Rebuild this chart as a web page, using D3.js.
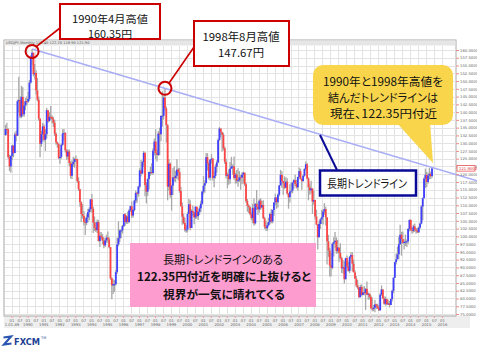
<!DOCTYPE html>
<html>
<head>
<meta charset="utf-8">
<script src="https://cdn.jsdelivr.net/npm/d3@7"></script>
<style>
body { margin: 0; background: #fff; }
svg { display: block; }
.jp { font-family: "Noto Sans CJK JP", sans-serif; font-feature-settings: "palt"; }
</style>
</head>
<body>
<svg id="chart"></svg>
<script>
// USDJPY monthly bars, Aug 1988 .. May 2015
const first_month = [1988, 8];
const first_open = 132.6;

const closes = [
    134.6, 134.5, 125.5, 122.5, 125.9,
    129.2, 126.8, 132.8, 132.4, 143.5, 143.9, 138.6, 144.9, 139.3, 142.1, 143.5, 143.4,
    144.2, 149.5, 157.6, 159.1, 152.2, 152.6, 147.0, 144.0, 137.9, 129.8, 132.9, 135.4,
    131.1, 132.9, 140.6, 137.1, 138.5, 138.4, 137.8, 136.6, 133.0, 130.3, 129.7, 125.2,
    125.6, 129.5, 133.1, 133.3, 127.7, 125.7, 127.3, 123.6, 119.5, 123.3, 124.0, 124.9,
    124.8, 117.8, 115.2, 111.0, 107.2, 106.6, 104.6, 104.4, 106.1, 107.8, 108.7, 111.9,
    108.9, 104.4, 102.8, 102.0, 104.6, 98.5, 100.2, 99.8, 98.6, 97.1, 98.7, 99.6,
    99.0, 96.5, 86.5, 84.2, 84.6, 84.6, 88.5, 97.4, 99.4, 101.9, 101.9, 103.3,
    107.1, 104.6, 106.4, 104.6, 108.3, 109.7, 106.7, 108.5, 111.5, 114.0, 113.8, 116.0,
    121.2, 120.2, 123.9, 126.9, 116.5, 114.4, 118.5, 120.7, 120.7, 120.4, 127.6, 130.5,
    126.8, 126.2, 133.1, 132.9, 138.8, 138.8, 144.7, 141.2, 135.8, 116.0, 123.4, 113.3,
    116.3, 119.0, 118.8, 119.5, 121.5, 120.7, 114.6, 109.7, 106.3, 104.3, 102.1, 102.2,
    107.2, 110.3, 102.7, 108.2, 107.7, 106.1, 109.5, 106.5, 107.9, 109.0, 110.5, 114.4,
    116.3, 117.1, 125.5, 123.5, 118.9, 124.7, 125.0, 118.8, 119.4, 122.4, 123.8, 131.0,
    134.7, 133.5, 132.7, 128.4, 124.0, 119.5, 119.9, 118.4, 121.8, 122.5, 122.5, 118.8,
    119.9, 117.9, 118.1, 119.0, 118.9, 119.8, 120.5, 116.8, 111.4, 109.9, 109.4, 107.2,
    105.9, 109.1, 104.2, 110.4, 109.5, 108.7, 111.5, 109.3, 110.1, 105.8, 103.1, 102.6,
    103.6, 104.6, 107.2, 104.8, 108.5, 110.9, 112.5, 111.0, 113.4, 116.4, 119.8, 117.8,
    117.1, 115.7, 117.6, 113.8, 112.6, 114.4, 114.7, 117.3, 118.1, 116.9, 115.8, 119.1,
    121.0, 118.6, 117.8, 119.5, 121.7, 123.2, 118.6, 115.8, 114.8, 115.4, 111.2, 111.7,
    106.4, 103.8, 99.7, 104.0, 105.5, 106.2, 108.0, 108.8, 106.1, 98.4, 95.5, 90.6,
    89.9, 97.6, 98.1, 98.6, 95.3, 96.4, 94.7, 93.0, 89.7, 90.1, 86.2, 93.0,
    90.3, 88.9, 93.4, 94.0, 91.2, 88.4, 86.4, 84.2, 83.5, 80.4, 83.7, 81.1,
    82.0, 81.8, 83.1, 81.2, 81.5, 80.5, 76.8, 76.6, 77.0, 78.1, 77.6, 76.9,
    76.2, 81.2, 82.9, 80.0, 78.3, 79.8, 78.1, 78.4, 77.9, 79.8, 82.5, 86.7,
    91.7, 92.6, 94.2, 97.5, 100.5, 99.1, 97.9, 98.2, 98.3, 98.4, 102.4, 105.3,
    102.0, 101.8, 103.2, 102.2, 101.8, 101.3, 102.8, 104.1, 109.6, 112.3, 118.6, 119.8,
    117.5, 119.6, 120.1, 119.4, 121.9
];

const highs = [
    135.9, 136.6, 134.8, 126.3, 126.0,
    129.5, 129.4, 133.5, 134.0, 144.0, 151.4, 145.0, 148.5, 148.0, 143.5, 144.5, 145.0,
    146.5, 150.3, 158.3, 160.35, 159.2, 155.5, 153.5, 151.0, 145.0, 138.0, 134.0, 136.5,
    136.1, 134.5, 141.4, 140.5, 140.0, 142.0, 139.0, 138.5, 137.5, 133.5, 130.5, 130.0,
    127.9, 129.9, 134.5, 134.6, 133.5, 128.0, 128.0, 128.0, 124.2, 124.5, 125.6, 125.3,
    126.0, 125.1, 119.0, 115.0, 111.2, 110.4, 108.2, 106.0, 107.1, 108.9, 109.4, 112.0,
    113.6, 109.5, 106.4, 104.6, 105.4, 105.3, 101.4, 101.4, 100.8, 99.7, 99.3, 100.5,
    101.6, 99.7, 96.6, 86.8, 86.2, 85.9, 89.2, 99.6, 104.8, 102.3, 102.3, 103.7,
    107.2, 107.5, 106.8, 108.0, 108.8, 109.9, 111.2, 108.9, 111.8, 114.8, 114.3, 116.3,
    121.9, 124.6, 124.3, 127.5, 127.0, 117.5, 118.6, 120.9, 122.4, 123.5, 128.3, 131.5,
    134.5, 128.0, 133.9, 135.0, 138.9, 146.7, 145.1, 147.67, 141.8, 136.1, 124.9, 123.8,
    116.6, 122.0, 122.5, 121.1, 124.8, 122.1, 122.0, 116.0, 111.0, 107.3, 106.0, 103.6,
    107.8, 112.1, 111.6, 108.7, 109.9, 107.7, 109.8, 109.5, 108.3, 109.8, 111.5, 114.7,
    119.4, 118.0, 126.8, 126.8, 124.0, 124.9, 126.5, 125.3, 121.0, 123.2, 124.5, 131.5,
    135.2, 134.7, 133.7, 133.4, 128.9, 125.0, 120.5, 121.5, 123.9, 125.6, 123.2, 125.7,
    120.5, 121.4, 121.9, 121.0, 119.8, 120.6, 120.8, 120.4, 117.3, 112.0, 110.3, 109.7,
    107.9, 110.5, 112.2, 110.7, 114.9, 111.0, 112.0, 112.3, 111.5, 111.6, 106.3, 105.0,
    104.5, 106.0, 107.7, 108.8, 108.6, 111.0, 113.7, 112.5, 113.8, 116.5, 121.4, 121.0,
    117.8, 119.3, 119.0, 118.7, 113.9, 116.8, 117.3, 117.6, 118.4, 119.8, 118.2, 119.2,
    122.2, 121.8, 118.6, 119.9, 121.9, 124.1, 123.6, 119.0, 117.0, 117.9, 115.5, 114.7,
    111.8, 108.6, 104.0, 105.0, 105.8, 108.6, 108.6, 110.7, 109.5, 106.2, 100.5, 96.3,
    94.6, 98.0, 99.7, 101.4, 99.7, 98.9, 96.4, 97.8, 93.4, 92.3, 92.0, 93.1,
    93.8, 91.9, 93.7, 94.9, 94.9, 92.5, 89.1, 87.2, 85.9, 83.7, 84.4, 84.5,
    83.7, 84.0, 83.3, 85.5, 82.0, 81.6, 81.0, 80.3, 77.9, 79.5, 78.3, 78.3,
    77.9, 81.7, 84.2, 82.6, 80.6, 80.6, 80.0, 79.6, 79.2, 80.0, 82.8, 86.8,
    91.8, 94.5, 96.7, 99.9, 103.7, 101.5, 101.5, 99.1, 100.6, 99.0, 102.6, 105.4,
    105.4, 102.8, 103.8, 104.1, 102.7, 102.8, 103.2, 104.5, 110.1, 112.5, 119.0, 121.8,
    120.8, 120.5, 122.0, 120.8, 122.2
];

const lows = [
    132.4, 132.9, 125.0, 121.0, 120.5,
    124.5, 125.5, 126.8, 130.5, 132.3, 139.8, 138.0, 138.1, 138.6, 138.5, 140.6, 142.2,
    142.9, 143.5, 149.2, 155.2, 151.5, 150.5, 145.7, 143.5, 137.2, 125.5, 128.8, 130.5,
    130.5, 127.5, 131.5, 136.5, 136.9, 137.5, 136.3, 135.2, 132.3, 129.5, 128.5, 124.9,
    123.4, 125.0, 129.2, 130.9, 127.0, 124.7, 124.6, 122.6, 118.6, 118.5, 122.3, 122.1,
    123.9, 117.2, 114.6, 109.5, 104.6, 105.7, 103.5, 100.4, 103.6, 104.5, 105.2, 107.8,
    107.6, 101.1, 101.7, 101.4, 101.1, 98.3, 96.6, 99.0, 97.5, 96.2, 96.6, 97.9,
    98.0, 96.2, 86.0, 79.75, 81.4, 82.1, 84.2, 87.9, 96.8, 98.2, 99.4, 100.9,
    103.0, 103.4, 104.0, 104.0, 104.3, 107.9, 105.9, 106.0, 108.0, 110.6, 110.8, 112.8,
    115.5, 119.3, 120.5, 122.3, 112.9, 110.6, 113.1, 115.1, 119.5, 119.9, 119.8, 126.0,
    124.8, 124.1, 125.9, 126.1, 130.6, 135.3, 137.6, 140.5, 130.2, 111.6, 114.8, 112.4,
    108.3, 113.3, 117.6, 117.5, 118.5, 118.1, 114.0, 109.5, 103.7, 103.9, 101.5, 101.2,
    101.3, 107.2, 102.0, 103.0, 106.5, 103.9, 105.6, 105.6, 105.3, 106.9, 107.8, 110.2,
    113.5, 114.0, 117.3, 121.2, 118.3, 118.0, 123.5, 118.0, 115.8, 118.6, 120.5, 123.5,
    130.8, 131.9, 127.3, 127.7, 123.3, 118.6, 115.5, 116.6, 116.9, 121.7, 119.8, 118.2,
    117.0, 117.0, 116.0, 117.5, 115.0, 116.8, 117.1, 116.2, 110.8, 107.9, 107.5, 106.8,
    105.2, 104.2, 103.4, 103.8, 108.5, 106.9, 107.6, 108.6, 109.0, 105.6, 102.4, 101.8,
    101.7, 103.2, 103.9, 104.2, 104.2, 106.6, 109.9, 108.9, 109.3, 112.9, 116.5, 115.6,
    113.4, 115.2, 115.5, 113.5, 108.9, 110.9, 113.8, 113.9, 115.3, 116.2, 115.4, 114.7,
    118.4, 118.3, 115.0, 117.6, 119.2, 121.2, 118.3, 111.6, 113.4, 113.8, 107.2, 110.2,
    105.5, 103.6, 95.8, 99.8, 102.4, 104.0, 103.8, 107.0, 103.5, 90.9, 93.4, 87.1,
    87.1, 89.4, 93.5, 96.3, 94.4, 94.5, 91.7, 92.6, 88.2, 88.0, 84.8, 86.2,
    89.8, 88.6, 88.1, 92.6, 88.7, 88.4, 86.3, 83.6, 82.9, 80.2, 80.5, 80.9,
    81.1, 81.0, 76.3, 81.2, 79.6, 79.7, 76.8, 75.9, 75.9, 75.56, 76.6, 76.6,
    76.0, 76.1, 80.9, 79.8, 78.0, 77.7, 77.9, 78.0, 77.1, 77.9, 79.0, 81.7,
    86.5, 90.9, 92.6, 92.6, 97.2, 93.8, 97.5, 95.8, 96.9, 96.6, 97.6, 101.6,
    101.8, 100.8, 101.2, 101.4, 100.8, 101.1, 101.1, 102.4, 103.9, 105.2, 112.3, 115.6,
    115.9, 116.9, 118.3, 118.5, 118.9
];

const price_ticks = d3.range(75, 160.01, 2.5);
const year_ticks = d3.range(1989, 2017);
const year_labels = ['1.01.89'].concat(d3.range(1990, 2017).map(String));
const half_labels = ['01', '07'];

// the two highs joined by the trend line
const peak_1990 = {year: 1990, month: 4, value: 160.35};
const peak_1998 = {year: 1998, month: 8, value: 147.67};

const note_1990 = ['1990年4月高値', '160.35円'];
const note_1998 = ['1998年8月高値', '147.67円'];
const note_trend = ['1990年と1998年高値を', '結んだトレンドラインは', '現在、122.35円付近'];
const note_label = '長期トレンドライン';
const note_pink = ['長期トレンドラインのある', '122.35円付近を明確に上抜けると', '視界が一気に晴れてくる'];
const header_text = 'USDJPY,Monthly  119.40 122.20 118.90 121.90';

class BarChart {

    constructor( config ) {
        this.config = {
            parent: config.parent,
            width: config.width || 477,
            height: config.height || 351,
            plot: config.plot || {left: 4, right: 456, top: 40, bottom: 316}
        }
        this.init();
    }

    init() {
        let self = this;

        self.svg = d3.select( self.config.parent )
            .attr('width', self.config.width)
            .attr('height', self.config.height);

        self.xscale = d3.scaleLinear()
            .domain( [1989, 2016] )
            .range( [11.5, 442] );

        self.yscale = d3.scaleLinear()
            .domain( [75, 160] )
            .range( [314, 50] );
    }

    update() {
        let self = this;

        self.bars = closes.map( (c, i) => {
            const m = first_month[1] - 1 + i;
            const o = i == 0 ? first_open : closes[i - 1];
            return {
                t: first_month[0] + (m + 0.5) / 12,
                o: o, c: c,
                h: Math.max(highs[i], o, c),
                l: Math.min(lows[i], o, c)
            };
        });

        self.render();
    }

    month_x( year, month ) {
        return this.xscale( year + (month - 0.5) / 12 );
    }

    text( g, x, y, str, size, len, weight ) {
        const t = g.append('text')
            .attr('class', 'jp')
            .attr('x', x)
            .attr('y', y)
            .attr('text-anchor', 'middle')
            .attr('dominant-baseline', 'central')
            .style('font-size', size + 'px')
            .style('font-weight', weight || 'normal')
            .attr('fill', '#111')
            .text( str );
        if (len) t.attr('textLength', len).attr('lengthAdjust', 'spacingAndGlyphs');
        return t;
    }

    render() {
        let self = this;
        const p = self.config.plot;
        const x = self.xscale, y = self.yscale;

        // frame
        self.svg.append('rect')
            .attr('x', p.left).attr('y', p.bottom)
            .attr('width', 466).attr('height', 12)
            .attr('fill', '#eeeeee');
        self.svg.append('rect')
            .attr('x', p.left).attr('y', p.top)
            .attr('width', p.right - p.left).attr('height', p.bottom - p.top)
            .attr('fill', '#fff').attr('stroke', '#a8a8a8');
        self.svg.append('rect')
            .attr('x', p.left + 0.5).attr('y', p.top + 0.5)
            .attr('width', p.right - p.left - 1).attr('height', 5)
            .attr('fill', '#e6e6e6');
        self.svg.append('text')
            .attr('x', p.left + 2).attr('y', p.top + 4)
            .style('font-family', 'DejaVu Sans').style('font-size', '3.6px')
            .attr('fill', '#555')
            .text( header_text );

        // grid
        const grid = self.svg.append('g').attr('stroke', '#e3e3e3').attr('stroke-width', 1);
        grid.selectAll('.vg').data( d3.range(1989, 2016.01, 0.5) ).join('line')
            .attr('x1', d => Math.round(x(d)) + 0.5).attr('x2', d => Math.round(x(d)) + 0.5)
            .attr('y1', p.top + 6).attr('y2', p.bottom);
        grid.selectAll('.hg').data( price_ticks ).join('line')
            .attr('x1', p.left + 1).attr('x2', p.right)
            .attr('y1', d => Math.round(y(d)) + 0.5).attr('y2', d => Math.round(y(d)) + 0.5);

        // bars
        const bar_g = self.svg.append('g');
        bar_g.selectAll('.wick').data( self.bars ).join('line')
            .attr('x1', d => x(d.t)).attr('x2', d => x(d.t))
            .attr('y1', d => y(d.h)).attr('y2', d => y(d.l))
            .attr('stroke', '#a8a8a8').attr('stroke-width', 1.3);
        bar_g.selectAll('.body').data( self.bars ).join('rect')
            .attr('x', d => x(d.t) - 0.9)
            .attr('width', 1.8)
            .attr('y', d => y(Math.max(d.o, d.c)))
            .attr('height', d => Math.max(1, Math.abs(y(d.o) - y(d.c))))
            .attr('fill', d => d.c >= d.o ? '#3f3fff' : '#ff4646');

        // trend line through the two highs
        const t1 = peak_1990.year + (peak_1990.month - 0.5) / 12;
        const t2 = peak_1998.year + (peak_1998.month - 0.5) / 12;
        const slope = (peak_1998.value - peak_1990.value) / (t2 - t1);
        const t_end = x.invert( self.config.width );
        self.svg.append('line')
            .attr('x1', x(t1)).attr('y1', y(peak_1990.value))
            .attr('x2', x(t_end)).attr('y2', y(peak_1990.value + slope * (t_end - t1)))
            .attr('stroke', '#a9adf5').attr('stroke-width', 1.6);

        // right price axis
        const yaxis = d3.axisRight( y )
            .tickValues( price_ticks )
            .tickFormat( d3.format('.4f') )
            .tickSize(3)
            .tickPadding(1);
        const yaxis_group = self.svg.append('g')
            .attr('transform', `translate(${p.right}, 0)`)
            .call( yaxis );
        yaxis_group.select('.domain').remove();
        yaxis_group.selectAll('line').attr('stroke', '#ee8c8c');
        yaxis_group.selectAll('text')
            .style('font-family', 'DejaVu Sans').style('font-size', '3.8px')
            .attr('fill', '#666');

        const last = self.bars[self.bars.length - 1];
        self.svg.append('rect')
            .attr('x', p.right + 1).attr('y', y(last.c) - 2.8)
            .attr('width', 18).attr('height', 5.6)
            .attr('fill', '#fff').attr('stroke', '#e55').attr('stroke-width', 0.8);
        self.svg.append('text')
            .attr('x', p.right + 3).attr('y', y(last.c) + 1.3)
            .style('font-family', 'DejaVu Sans').style('font-size', '3.8px')
            .attr('fill', '#d33')
            .text( d3.format('.4f')(last.c) );

        // bottom time axis
        const xaxis = d3.axisBottom( x )
            .tickValues( d3.range(1989, 2016.01, 0.5) )
            .tickFormat( (d, i) => half_labels[i % 2] )
            .tickSize(2)
            .tickPadding(1);
        const xaxis_group = self.svg.append('g')
            .attr('transform', `translate(0, ${p.bottom})`)
            .call( xaxis );
        xaxis_group.select('.domain').remove();
        xaxis_group.selectAll('line').attr('stroke', '#ee9a9a');
        xaxis_group.selectAll('text')
            .style('font-family', 'DejaVu Sans').style('font-size', '3.8px')
            .attr('fill', '#666');

        const yearaxis = d3.axisBottom( x )
            .tickValues( year_ticks )
            .tickFormat( (d, i) => year_labels[i] )
            .tickSize(0)
            .tickPadding(0);
        const yearaxis_group = self.svg.append('g')
            .attr('transform', `translate(0, ${p.bottom + 7})`)
            .call( yearaxis );
        yearaxis_group.select('.domain').remove();
        yearaxis_group.selectAll('text')
            .style('font-family', 'DejaVu Sans').style('font-size', '3.8px')
            .attr('fill', '#666');

        // annotations
        const ann = self.svg.append('g');
        const red = '#cc0000';

        const px1 = self.month_x(peak_1990.year, peak_1990.month);
        const py1 = y(peak_1990.value) + 2.5;
        ann.append('circle').attr('cx', px1).attr('cy', py1).attr('r', 6.5)
            .attr('fill', 'none').attr('stroke', red).attr('stroke-width', 2);
        ann.append('line').attr('x1', px1 + 4.5).attr('y1', py1 - 5).attr('x2', 60).attr('y2', 28)
            .attr('stroke', red).attr('stroke-width', 1.6);
        ann.append('rect').attr('x', 60).attr('y', 4).attr('width', 100).attr('height', 35)
            .attr('fill', '#fff').attr('stroke', red).attr('stroke-width', 2);
        self.text(ann, 110, 18.5, note_1990[0], 10.5, 76);
        self.text(ann, 110, 33.5, note_1990[1], 10.5, 44);

        const px2 = self.month_x(peak_1998.year, peak_1998.month);
        const py2 = y(peak_1998.value);
        ann.append('circle').attr('cx', px2).attr('cy', py2).attr('r', 6.5)
            .attr('fill', 'none').attr('stroke', red).attr('stroke-width', 2);
        ann.append('line').attr('x1', px2 + 4).attr('y1', py2 - 5).attr('x2', 194).attr('y2', 47)
            .attr('stroke', red).attr('stroke-width', 1.6);
        ann.append('rect').attr('x', 194).attr('y', 21).attr('width', 95).attr('height', 45)
            .attr('fill', '#fff').attr('stroke', red).attr('stroke-width', 2);
        self.text(ann, 241, 35.5, note_1998[0], 11, 77);
        self.text(ann, 241, 52, note_1998[1], 11, 46);

        // yellow speech bubble
        const yellow = '#f8d54b';
        ann.append('path')
            .attr('d', 'M396,122 L433,163 L430,122 Z')
            .attr('fill', yellow);
        ann.append('rect').attr('x', 313).attr('y', 65).attr('width', 140).attr('height', 60)
            .attr('rx', 10).attr('fill', yellow);
        self.text(ann, 383, 80.5, note_trend[0], 11.5, 120);
        self.text(ann, 383, 97, note_trend[1], 11.5, 110);
        self.text(ann, 383.5, 112.5, note_trend[2], 11.5, 107);

        // long term trend line label
        const navy = '#0a0a96';
        ann.append('line').attr('x1', 320).attr('y1', 135).attr('x2', 337).attr('y2', 170)
            .attr('stroke', navy).attr('stroke-width', 2);
        ann.append('rect').attr('x', 320).attr('y', 170.5).attr('width', 96).attr('height', 25)
            .attr('fill', '#fff').attr('stroke', navy).attr('stroke-width', 2.5);
        self.text(ann, 367, 183, note_label, 11.5, 80);

        // pink note
        ann.append('rect').attr('x', 130).attr('y', 243).attr('width', 186).attr('height', 64)
            .attr('fill', '#fd9ccf');
        self.text(ann, 223, 258.5, note_pink[0], 11.5, 120);
        self.text(ann, 224, 276, note_pink[1], 11.5, 174, 'bold');
        self.text(ann, 224, 293.5, note_pink[2], 11.5, 122, 'bold');

        // logo
        const logo = self.svg.append('g');
        logo.append('path')
            .attr('d', 'M3.5,337.5 L11,336.5 L4,344.5 L11.5,343.5')
            .attr('fill', 'none').attr('stroke', '#2a55b0').attr('stroke-width', 2.2);
        logo.append('text')
            .attr('x', 14).attr('y', 345)
            .style('font-family', 'DejaVu Sans').style('font-size', '9px').style('font-weight', 'bold')
            .attr('fill', '#1d3f92')
            .attr('textLength', 26).attr('lengthAdjust', 'spacingAndGlyphs')
            .text('FXCM');
        logo.append('text')
            .attr('x', 41).attr('y', 339)
            .style('font-family', 'DejaVu Sans').style('font-size', '3.5px')
            .attr('fill', '#1d3f92')
            .text('TM');
    }
}

let chart = new BarChart( {parent: '#chart', width: 477, height: 351} );
chart.update();
</script>
</body>
</html>
